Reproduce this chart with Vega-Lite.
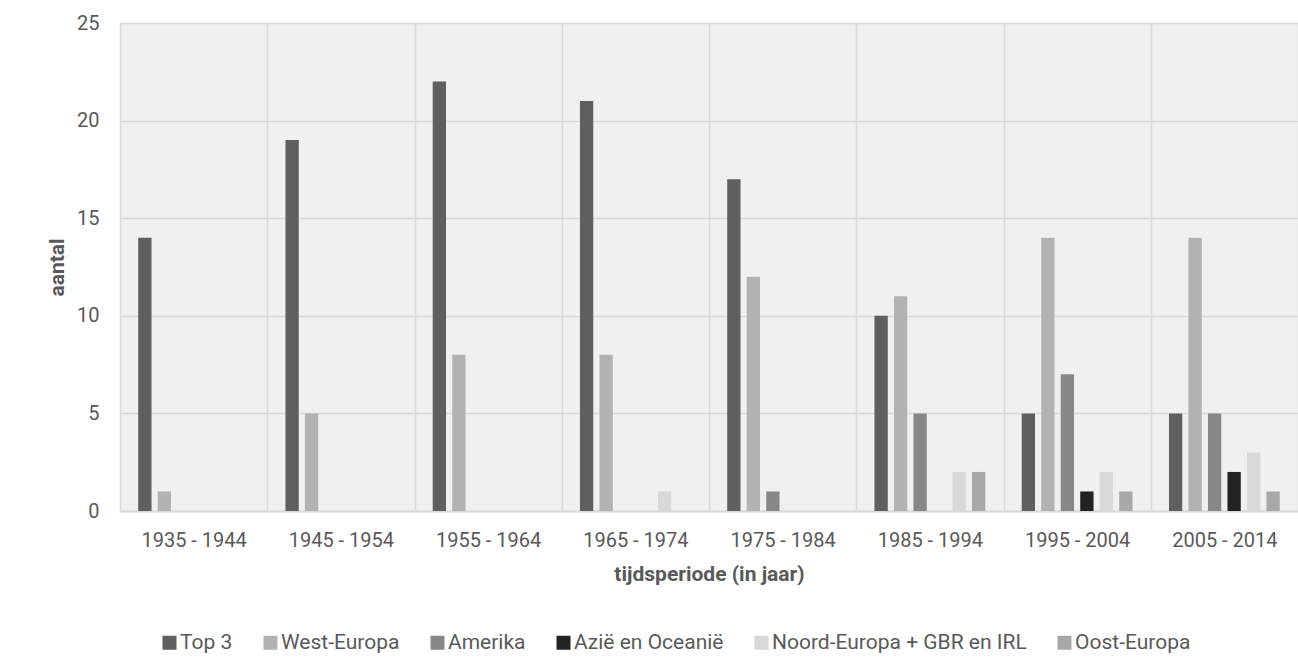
{
  "$schema": "https://vega.github.io/schema/vega-lite/v6.json",
  "width": 1178,
  "height": 488,
  "autosize": "none",
  "padding": {"left": 120, "top": 23, "right": 0, "bottom": 159},
  "background": "white",
  "config": {
    "font": "Roboto",
    "view": {"fill": "#f0f0f0", "stroke": null},
    "axis": {"labelFont": "Roboto", "titleFont": "Roboto"}
  },
  "data": {
    "values": [
      {"periode": "1935 - 1944", "regio": "Top 3", "aantal": 14},
      {"periode": "1935 - 1944", "regio": "West-Europa", "aantal": 1},
      {"periode": "1935 - 1944", "regio": "Amerika", "aantal": 0},
      {"periode": "1935 - 1944", "regio": "Azië en Oceanië", "aantal": 0},
      {"periode": "1935 - 1944", "regio": "Noord-Europa + GBR en IRL", "aantal": 0},
      {"periode": "1935 - 1944", "regio": "Oost-Europa", "aantal": 0},
      {"periode": "1945 - 1954", "regio": "Top 3", "aantal": 19},
      {"periode": "1945 - 1954", "regio": "West-Europa", "aantal": 5},
      {"periode": "1945 - 1954", "regio": "Amerika", "aantal": 0},
      {"periode": "1945 - 1954", "regio": "Azië en Oceanië", "aantal": 0},
      {"periode": "1945 - 1954", "regio": "Noord-Europa + GBR en IRL", "aantal": 0},
      {"periode": "1945 - 1954", "regio": "Oost-Europa", "aantal": 0},
      {"periode": "1955 - 1964", "regio": "Top 3", "aantal": 22},
      {"periode": "1955 - 1964", "regio": "West-Europa", "aantal": 8},
      {"periode": "1955 - 1964", "regio": "Amerika", "aantal": 0},
      {"periode": "1955 - 1964", "regio": "Azië en Oceanië", "aantal": 0},
      {"periode": "1955 - 1964", "regio": "Noord-Europa + GBR en IRL", "aantal": 0},
      {"periode": "1955 - 1964", "regio": "Oost-Europa", "aantal": 0},
      {"periode": "1965 - 1974", "regio": "Top 3", "aantal": 21},
      {"periode": "1965 - 1974", "regio": "West-Europa", "aantal": 8},
      {"periode": "1965 - 1974", "regio": "Amerika", "aantal": 0},
      {"periode": "1965 - 1974", "regio": "Azië en Oceanië", "aantal": 0},
      {"periode": "1965 - 1974", "regio": "Noord-Europa + GBR en IRL", "aantal": 1},
      {"periode": "1965 - 1974", "regio": "Oost-Europa", "aantal": 0},
      {"periode": "1975 - 1984", "regio": "Top 3", "aantal": 17},
      {"periode": "1975 - 1984", "regio": "West-Europa", "aantal": 12},
      {"periode": "1975 - 1984", "regio": "Amerika", "aantal": 1},
      {"periode": "1975 - 1984", "regio": "Azië en Oceanië", "aantal": 0},
      {"periode": "1975 - 1984", "regio": "Noord-Europa + GBR en IRL", "aantal": 0},
      {"periode": "1975 - 1984", "regio": "Oost-Europa", "aantal": 0},
      {"periode": "1985 - 1994", "regio": "Top 3", "aantal": 10},
      {"periode": "1985 - 1994", "regio": "West-Europa", "aantal": 11},
      {"periode": "1985 - 1994", "regio": "Amerika", "aantal": 5},
      {"periode": "1985 - 1994", "regio": "Azië en Oceanië", "aantal": 0},
      {"periode": "1985 - 1994", "regio": "Noord-Europa + GBR en IRL", "aantal": 2},
      {"periode": "1985 - 1994", "regio": "Oost-Europa", "aantal": 2},
      {"periode": "1995 - 2004", "regio": "Top 3", "aantal": 5},
      {"periode": "1995 - 2004", "regio": "West-Europa", "aantal": 14},
      {"periode": "1995 - 2004", "regio": "Amerika", "aantal": 7},
      {"periode": "1995 - 2004", "regio": "Azië en Oceanië", "aantal": 1},
      {"periode": "1995 - 2004", "regio": "Noord-Europa + GBR en IRL", "aantal": 2},
      {"periode": "1995 - 2004", "regio": "Oost-Europa", "aantal": 1},
      {"periode": "2005 - 2014", "regio": "Top 3", "aantal": 5},
      {"periode": "2005 - 2014", "regio": "West-Europa", "aantal": 14},
      {"periode": "2005 - 2014", "regio": "Amerika", "aantal": 5},
      {"periode": "2005 - 2014", "regio": "Azië en Oceanië", "aantal": 2},
      {"periode": "2005 - 2014", "regio": "Noord-Europa + GBR en IRL", "aantal": 3},
      {"periode": "2005 - 2014", "regio": "Oost-Europa", "aantal": 1}
    ]
  },
  "mark": {"type": "bar"},
  "encoding": {
    "x": {
      "field": "periode", "type": "nominal", "sort": null,
      "scale": {"paddingInner": 0, "paddingOuter": 0},
      "axis": {
        "title": "tijdsperiode (in jaar)",
        "labelAngle": 0, "labelFontSize": 20, "labelColor": "#595959",
        "labelPadding": 19, "ticks": false,
        "domainColor": "#d9d9d9", "domainWidth": 2,
        "grid": true, "gridColor": "#d9d9d9", "gridWidth": 1.5,
        "tickBand": "extent",
        "titleFontSize": 21, "titleFontWeight": "bold", "titleColor": "#595959",
        "titlePadding": 13
      }
    },
    "xOffset": {
      "field": "regio", "type": "nominal", "sort": null,
      "scale": {"paddingInner": 0.318, "paddingOuter": 0.934}
    },
    "y": {
      "field": "aantal", "type": "quantitative",
      "scale": {"domain": [0, 25]},
      "axis": {
        "title": "aantal", "values": [0, 5, 10, 15, 20, 25],
        "labelFontSize": 20, "labelColor": "#595959", "labelPadding": 21,
        "ticks": false, "domain": false,
        "grid": true, "gridColor": "#d9d9d9", "gridWidth": 1.5,
        "titleFontSize": 21, "titleFontWeight": "bold", "titleColor": "#595959",
        "titlePadding": 9
      }
    },
    "color": {
      "field": "regio", "type": "nominal", "sort": null,
      "scale": {
        "domain": ["Top 3", "West-Europa", "Amerika", "Azië en Oceanië", "Noord-Europa + GBR en IRL", "Oost-Europa"],
        "range": ["#5f5f5f", "#b2b2b2", "#878787", "#222222", "#d9d9d9", "#a8a8a8"]
      },
      "legend": {
        "title": null, "orient": "none", "direction": "horizontal",
        "legendX": 39, "legendY": 609,
        "symbolType": "square", "symbolSize": 196, "symbolStrokeWidth": 0,
        "labelFontSize": 21, "labelColor": "#595959", "labelFont": "Roboto",
        "labelLimit": 0,
        "columnPadding": 27, "labelOffset": 0, "padding": 0
      }
    }
  }
}
